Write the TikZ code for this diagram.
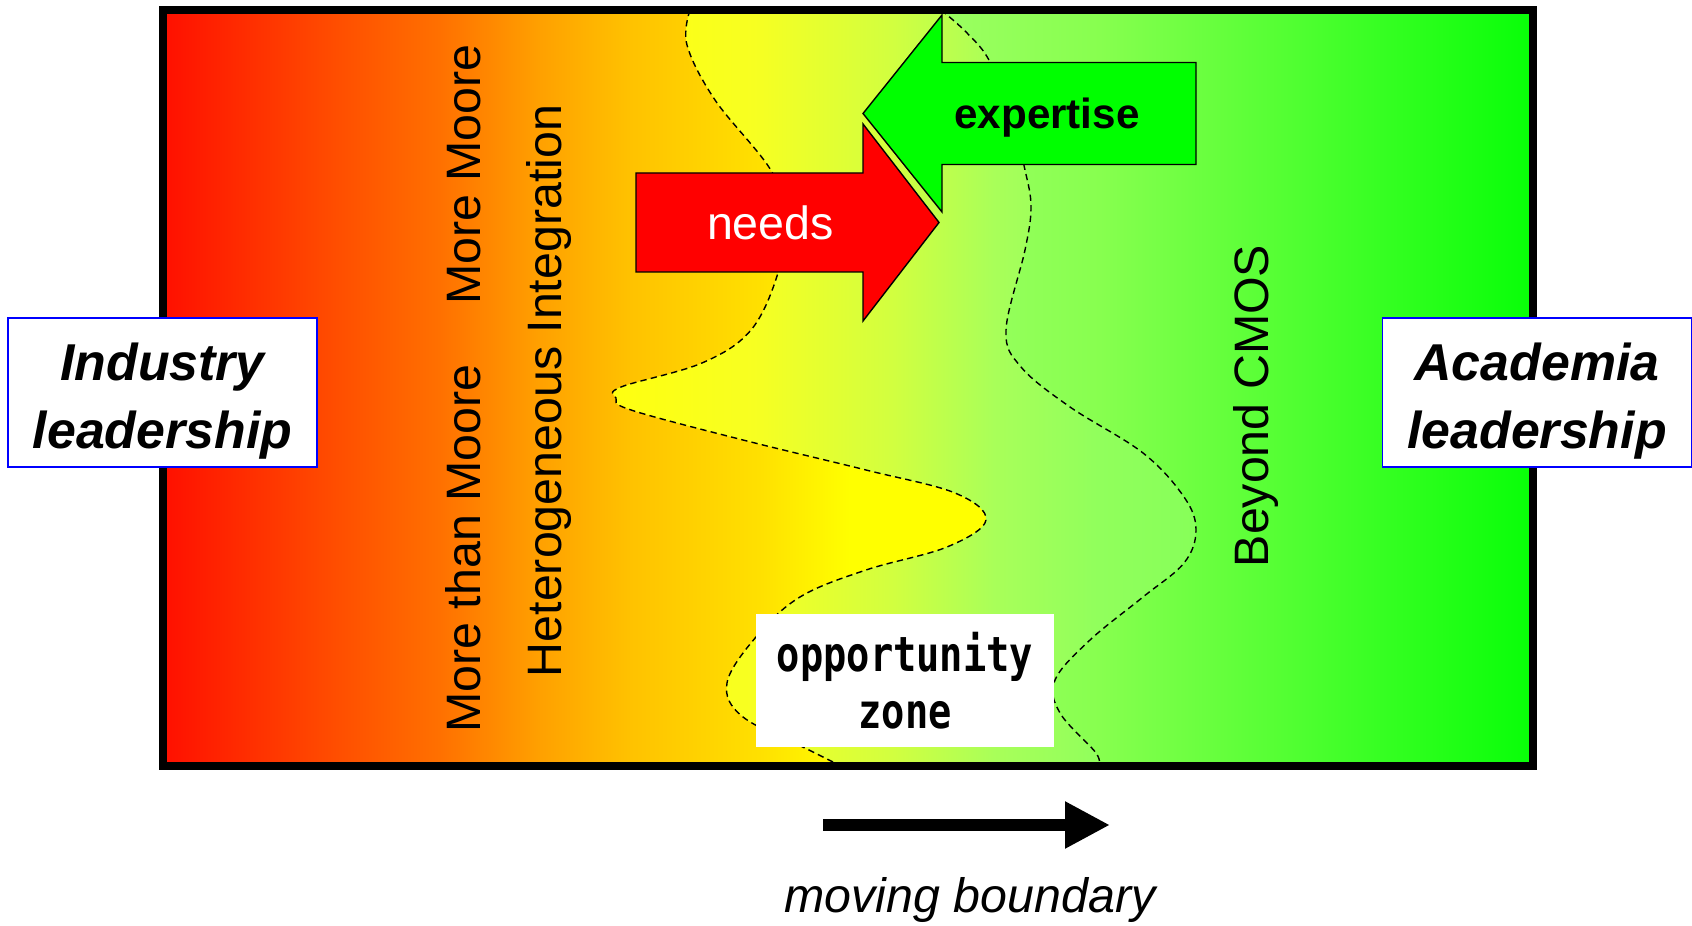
\documentclass[tikz,border=0pt]{standalone}
\usepackage{fontspec}
\setmainfont{Liberation Sans}
\newfontfamily\zonefont[FakeStretch=0.8]{DejaVu Sans Mono}
\usetikzlibrary{arrows.meta}

% red -> yellow band (left side)
\pgfdeclarehorizontalshading{leftshade}{100bp}{
  rgb(0bp)=(1,0.06,0); rgb(25bp)=(1,0.06,0); rgb(31.46bp)=(1,0.31,0);
  rgb(35.11bp)=(1,0.44,0); rgb(38.76bp)=(1,0.63,0); rgb(42.04bp)=(1,0.76,0);
  rgb(46.79bp)=(1,0.88,0); rgb(50.07bp)=(1,1,0); rgb(100bp)=(1,1,0)}
% opportunity zone
\pgfdeclarehorizontalshading{zoneshade}{100bp}{
  rgb(0bp)=(1,1,0.06); rgb(25bp)=(1,1,0.06); rgb(32.9bp)=(0.97,1,0.13);
  rgb(40.5bp)=(0.82,1,0.25); rgb(46bp)=(0.66,1,0.35); rgb(51.4bp)=(0.57,1,0.36);
  rgb(56.6bp)=(0.53,1,0.35); rgb(100bp)=(0.53,1,0.35)}
% light green -> green (right side)
\pgfdeclarehorizontalshading{rightshade}{100bp}{
  rgb(0bp)=(0.61,1,0.38); rgb(25bp)=(0.61,1,0.38); rgb(38.4bp)=(0.53,1,0.31);
  rgb(55.3bp)=(0.31,1,0.19); rgb(75bp)=(0.03,1,0.03); rgb(100bp)=(0.03,1,0.03)}

\begin{document}
\begin{tikzpicture}[
  x=1cm,
  y=1cm,
  lead/.style={draw=blue, line width=1pt, fill=white, align=center, inner sep=0pt,
    minimum width=6.18cm, minimum height=2.98cm,
    font=\fontsize{29.5}{38.7}\selectfont\bfseries\itshape},
  vtext/.style={rotate=90, anchor=base, inner sep=0pt, font=\fontsize{27.5}{33}\selectfont},
  bound/.style={draw, dash pattern=on 3.6pt off 2.4pt, line width=0.8pt},
  bigarrow/.style={draw, line width=0.8pt, line join=miter},
  zonebox/.style={fill=white, align=center, inner sep=0pt,
    minimum width=5.96cm, minimum height=2.66cm,
    font=\zonefont\bfseries\fontsize{27.5}{32.4}\selectfont}
]

\useasboundingbox (0,0) rectangle (33.84,18.5);

\shade[shading=leftshade] (3.26,3.18) rectangle (30.66,18.3);

% opportunity zone and green side, bounded by the dashed curves
\path[bound, shading=zoneshade] plot[smooth, tension=0.6] coordinates {
  (13.8,18.3) (13.74,17.6) (14.3,16.5) (15.44,15.06) (15.7,14.06) (15.56,13.04)
  (15.02,11.9) (14.04,11.24) (12.42,10.76) (12.32,10.54) (12.62,10.3) (14.86,9.7)
  (17.32,9.1) (19.1,8.64) (19.72,8.1) (18.94,7.56) (17.32,7.1) (16.0,6.56)
  (15.12,5.76) (14.54,4.84) (14.86,4.16) (16.18,3.5) (16.82,3.18)}
  -- (30.66,3.18) -- (30.66,18.3) -- cycle;
\path[bound, shading=rightshade] plot[smooth, tension=0.6] coordinates {
  (18.82,18.3) (19.34,17.84) (19.8,17.26) (20.24,16.1) (20.5,15.1) (20.62,14.36)
  (20.5,13.5) (20.12,11.9) (20.42,11.16) (21.4,10.36) (22.86,9.44) (23.68,8.56)
  (23.92,7.9) (23.68,7.24) (22.86,6.56) (21.8,5.7) (21.1,4.9) (21.2,4.24)
  (21.92,3.44) (21.96,3.18)}
  -- (30.66,3.18) -- (30.66,18.3) -- cycle;

\node[vtext] (mm) at (9.6,15.01) {More Moore};
\node[vtext] (mtm) at (9.6,7.53) {More than Moore};
\node[vtext] (hi) at (11.22,10.68) {Heterogeneous Integration};
\node[vtext] (bc) at (25.36,10.38) {Beyond CMOS};

\draw[bigarrow, fill=green] (17.26,16.23) -- (18.84,18.2) -- (18.84,17.25) -- (23.92,17.25)
  -- (23.92,15.21) -- (18.84,15.21) -- (18.84,14.26) -- cycle;
\node[anchor=base, font=\fontsize{24}{28}\selectfont\bfseries] (exp) at (20.94,15.92) {expertise};

\draw[bigarrow, fill=red] (12.72,15.04) -- (17.26,15.04) -- (17.26,16.02) -- (18.78,14.05)
  -- (17.26,12.08) -- (17.26,13.06) -- (12.72,13.06) -- cycle;
\node[anchor=base, text=white, font=\fontsize{26.5}{30}\selectfont] (needs) at (15.41,13.7) {needs};

\draw[line width=4.55pt] (3.26,3.18) rectangle (30.66,18.3);

\node[lead] (ind) at (3.25,10.65) {\rule{0pt}{30.7pt}Industry\\leadership};
\node[lead] (acad) at (30.74,10.65) {\rule{0pt}{30.7pt}Academia\\leadership};

\node[zonebox] (opp) at (18.1,4.89) {opportunity\\zone};

\coordinate (mbl) at (16.46,2.0);
\coordinate (mbr) at (22.2,2.0);
\draw[line width=7pt, -{Triangle[length=0.9cm, width=0.88cm]}] (mbl) -- (mbr);
\node[anchor=base, font=\fontsize{27.5}{31}\selectfont\itshape] (mb) at (19.4,0.26) {moving boundary};

\end{tikzpicture}
\end{document}
